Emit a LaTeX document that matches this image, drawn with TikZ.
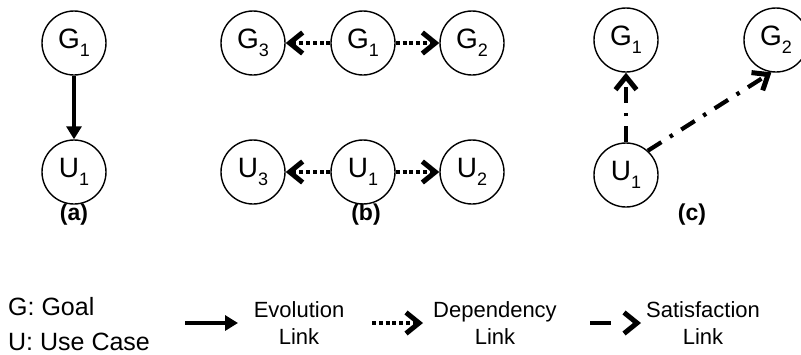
\documentclass[tikz,border=0pt]{standalone}
\usepackage{fontspec}
\setmainfont{Liberation Sans}
\usetikzlibrary{arrows.meta}
\newcommand\nsub[1]{\raisebox{-8pt}{\fontsize{18}{18}\selectfont #1}}
\tikzset{
  gnode/.style={circle, draw, line width=1.4pt, minimum size=64pt, inner sep=0pt,
    font=\fontsize{28}{28}\selectfont},
  chev/.tip={Straight Barb[length=13pt, width=21pt, line width=5pt, line join=miter]},
  evo/.style={line width=3.8pt, -{Triangle[length=13pt, width=15pt]}},
  dep/.style={line width=4.5pt, dash pattern=on 4pt off 2.8pt, -chev},
  sat/.style={line width=4.2pt, dash pattern=on 16pt off 10pt on 3.5pt off 10pt, -chev},
  sublabel/.style={font=\fontsize{23}{23}\selectfont\bfseries},
  legtxt/.style={font=\fontsize{22}{27}\selectfont, align=center},
}
\begin{document}
\begin{tikzpicture}[x=1pt, y=-1pt]
\useasboundingbox (0,0) rectangle (801,354);

% (a) evolution
\node[gnode] (aG1) at (74,43) {G\nsub{1}};
\node[gnode] (aU1) at (74,172) {U\nsub{1}};
\draw[evo] (aG1) -- (aU1);
\node[sublabel] (la) at (74,215) {(a)};

% (b) dependencies
\node[gnode] (bG3) at (253,43) {G\nsub{3}};
\node[gnode] (bG1) at (363,43) {G\nsub{1}};
\node[gnode] (bG2) at (472,43) {G\nsub{2}};
\node[gnode] (bU3) at (253,172) {U\nsub{3}};
\node[gnode] (bU1) at (363,172) {U\nsub{1}};
\node[gnode] (bU2) at (472,172) {U\nsub{2}};
\draw[dep] (bG1) -- (bG3);
\draw[dep] (bG1) -- (bG2);
\draw[dep] (bU1) -- (bU3);
\draw[dep] (bU1) -- (bU2);
\node[sublabel] (lb) at (366,215) {(b)};

% (c) satisfaction
\node[gnode] (cG1) at (626,40) {G\nsub{1}};
\node[gnode] (cG2) at (776,40) {G\nsub{2}};
\node[gnode] (cU1) at (626,175) {U\nsub{1}};
\draw[sat] (cU1) -- (cG1);
\draw[sat] (cU1.48) -- (cG2.262);
\node[sublabel] (lc) at (692,215) {(c)};

% legend
\node[anchor=base west, font=\fontsize{25}{25}\selectfont, inner sep=0pt] (kG) at (8,315) {G: Goal};
\node[anchor=base west, font=\fontsize{25}{25}\selectfont, inner sep=0pt] (kU) at (8,350) {U: Use Case};

\coordinate (e1) at (185,323);
\coordinate (e2) at (238,323);
\draw[evo] (e1) -- (e2);
\node[legtxt] (et) at (299,323) {Evolution\\Link};

\coordinate (d1) at (372,323);
\coordinate (d2) at (423,323);
\draw[dep] (d1) -- (d2);
\node[legtxt] (dt) at (495,323) {Dependency\\Link};

\coordinate (s1) at (590,323);
\coordinate (s2) at (641,323);
\draw[sat, dash pattern=on 21pt off 40pt] (s1) -- (s2);
\node[legtxt] (st) at (703,323) {Satisfaction\\Link};
\end{tikzpicture}
\end{document}
